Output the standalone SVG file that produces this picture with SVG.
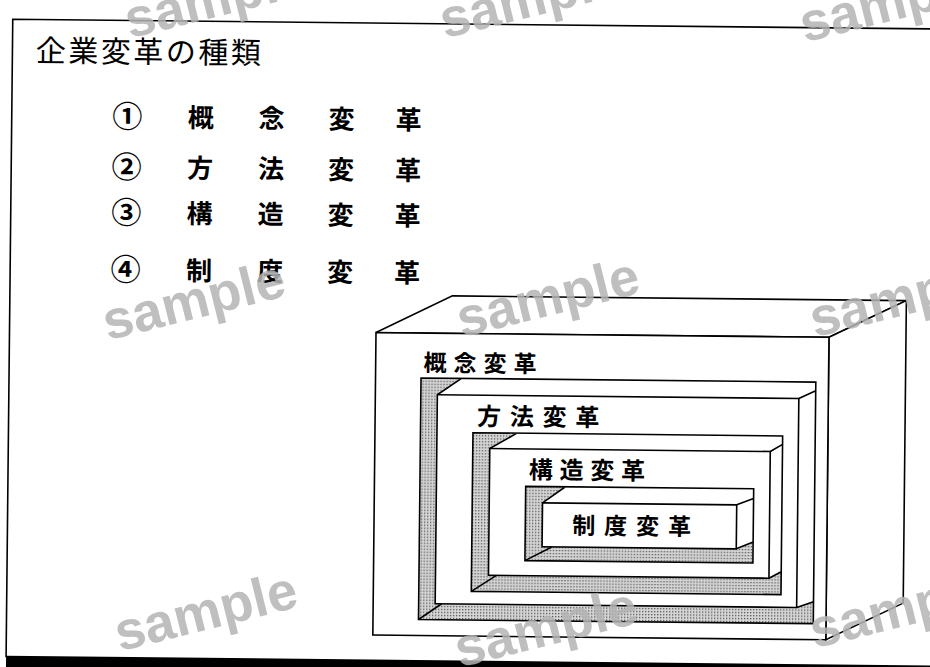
<svg xmlns="http://www.w3.org/2000/svg" width="930" height="667" viewBox="0 0 930 667">
<defs>
<style>
.ln{fill:none;stroke:#000;stroke-width:1.6;stroke-linejoin:miter}
.wf{fill:#fff;stroke:#000;stroke-width:1.6;stroke-linejoin:miter}
.sh{fill:url(#dots);stroke:none}
.wt{fill:#fff;stroke:none}
.jp{font-family:"Noto Sans CJK JP","Noto Sans CJK SC",sans-serif;fill:#000}
.lst{font-size:26px;font-weight:700;text-anchor:middle}
.num{font-size:30px;font-weight:700;text-anchor:middle}
.lbl{font-weight:700}
.wm{font-family:"Liberation Sans",Arial,sans-serif;font-weight:700;font-size:54px;fill:#b4b4b4;text-anchor:middle;opacity:0.85}
</style>
<pattern id="dots" width="3" height="3" patternUnits="userSpaceOnUse">
<rect width="3" height="3" fill="#d6d6d6"/>
<rect width="1.3" height="1.3" fill="#555"/>
</pattern>
</defs>
<rect width="930" height="667" fill="#fff"/>
<g transform="rotate(0.6 465 333)">
  <g id="frame">
    <path class="ln" d="M9.5,662 V24 H945" stroke-width="3"/>
    <rect x="9.5" y="660.5" width="935" height="16" fill="#000"/>
  </g>
  <g id="title">
    <text class="jp" x="33" y="66" font-size="30" letter-spacing="2.5">企業変革の種類</text>
  </g>
  <g id="list">
    <g id="item1">
      <text class="jp num" x="125" y="131">①</text>
      <text class="jp lst" x="198.5" y="130">概</text>
      <text class="jp lst" x="269.5" y="130">念</text>
      <text class="jp lst" x="339.5" y="130">変</text>
      <text class="jp lst" x="406.5" y="130">革</text>
    </g>
    <g id="item2">
      <text class="jp num" x="125" y="181.5">②</text>
      <text class="jp lst" x="198.5" y="180.5">方</text>
      <text class="jp lst" x="269.5" y="180.5">法</text>
      <text class="jp lst" x="339.5" y="180.5">変</text>
      <text class="jp lst" x="406.5" y="180.5">革</text>
    </g>
    <g id="item3">
      <text class="jp num" x="125" y="227">③</text>
      <text class="jp lst" x="198.5" y="226">構</text>
      <text class="jp lst" x="269.5" y="226">造</text>
      <text class="jp lst" x="339.5" y="226">変</text>
      <text class="jp lst" x="406.5" y="226">革</text>
    </g>
    <g id="item4">
      <text class="jp num" x="125" y="284">④</text>
      <text class="jp lst" x="198.5" y="283">制</text>
      <text class="jp lst" x="269.5" y="283">度</text>
      <text class="jp lst" x="339.5" y="283">変</text>
      <text class="jp lst" x="406.5" y="283">革</text>
    </g>
  </g>
  <g id="outer-box">
    <polygon class="wf" points="376,333.5 452,296 906,296 829,333.5"/>
    <polygon class="wf" points="829,333.5 906,296 906,598.5 829,636"/>
    <rect class="wf" x="376" y="333.5" width="453" height="302.5"/>
    <text class="jp lbl" x="424" y="371.5" font-size="23" letter-spacing="7">概念変革</text>
  </g>
  <g id="level1">
    <rect class="sh" x="421.5" y="378.4" width="394.8" height="241.6"/>
    <polygon class="wt" points="438,395 462,378.4 816.3,378.4 816.3,598 799.5,604 799.5,395"/>
    <path class="ln" d="M438,395 L462,378.4 M799.5,395 L816.3,387 M799.5,604 L816.3,598 M421.5,620 L444.5,604 M421.5,378.4 H816.3 V620 H421.5 Z"/>
    <rect class="wf" x="438" y="395" width="361.5" height="209"/>
    <text class="jp lbl" x="478" y="424.8" font-size="24" letter-spacing="8.7">方法変革</text>
  </g>
  <g id="level2">
    <rect class="sh" x="474" y="432.6" width="309.7" height="158.7"/>
    <polygon class="wt" points="491,448.3 518,432.6 783.7,432.6 783.7,568.5 771.5,575 771.5,448.3"/>
    <path class="ln" d="M491,448.3 L518,432.6 M771.5,448.3 L783.7,441 M771.5,575 L783.7,568.5 M474,591.3 L499,575 M474,432.6 H783.7 V591.3 H474 Z"/>
    <rect class="wf" x="491" y="448.3" width="280.5" height="126.7"/>
    <text class="jp lbl" x="530.4" y="477.8" font-size="24" letter-spacing="6.7">構造変革</text>
  </g>
  <g id="level3">
    <rect class="sh" x="527.3" y="485.7" width="228" height="74.3"/>
    <polygon class="wt" points="544.3,502 567,485.7 755.3,485.7 755.3,539 738.5,546 738.5,502"/>
    <path class="ln" d="M544.3,502 L567,485.7 M738.5,502 L755.3,495.5 M738.5,546 L755.3,539 M527.3,560 L554,546 M527.3,485.7 H755.3 V560 H527.3 Z"/>
    <rect class="wf" x="544.3" y="502" width="194.2" height="44"/>
    <text class="jp lbl" x="574.3" y="532.7" font-size="23" letter-spacing="8.9">制度変革</text>
  </g>
</g>
<g id="watermarks">
  <text class="wm" x="220" y="16" transform="rotate(-14 220 16)">sample</text>
  <text class="wm" x="535" y="16" transform="rotate(-14 535 16)">sample</text>
  <text class="wm" x="895" y="20" transform="rotate(-14 895 20)">sample</text>
  <text class="wm" x="198" y="318" transform="rotate(-14 198 318)">sample</text>
  <text class="wm" x="552" y="315" transform="rotate(-14 552 315)">sample</text>
  <text class="wm" x="905" y="315" transform="rotate(-14 905 315)">sample</text>
  <text class="wm" x="210" y="629" transform="rotate(-14 210 629)">sample</text>
  <text class="wm" x="550" y="645" transform="rotate(-14 550 645)">sample</text>
  <text class="wm" x="905" y="626" transform="rotate(-14 905 626)">sample</text>
</g>
</svg>
